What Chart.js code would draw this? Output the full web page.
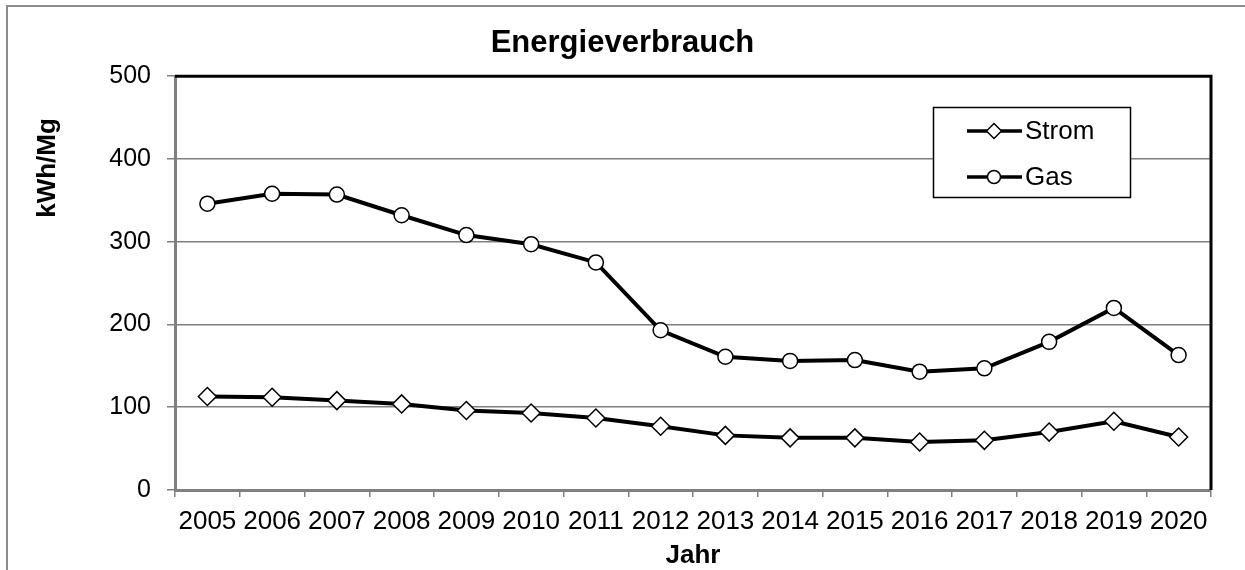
<!DOCTYPE html>
<html>
<head>
<meta charset="utf-8">
<script src="https://cdn.jsdelivr.net/npm/chart.js@4.4.0/dist/chart.umd.min.js"></script>
<style>
  html, body { margin: 0; padding: 0; background: #fff; }
  canvas { display: block; }
</style>
</head>
<body>
<canvas id="myChart" width="1245" height="570"></canvas>
<script>
// Jahre entlang der x-Achse
var years = ["2005","2006","2007","2008","2009","2010","2011","2012",
             "2013","2014","2015","2016","2017","2018","2019","2020"];
// Werte in kWh/Mg
var strom = [113,112,108,104,96,93,87,77,66,63,63,58,60,70,83,64];
var gas = [346,358,357,332,308,297,275,193,161,156,157,143,147,179,220,163];
var seriesNames = ["Strom", "Gas"];

var FONT = "'Liberation Sans', Arial, sans-serif";

// grauer Rahmen um das ganze Diagramm
var framePlugin = {
  id: 'frame',
  beforeDraw: function(chart) {
    var ctx = chart.ctx;
    ctx.save();
    ctx.fillStyle = '#fff';
    ctx.fillRect(0, 0, chart.width, chart.height);
    ctx.strokeStyle = '#8c8c8c';
    ctx.lineWidth = 2;
    ctx.strokeRect(7, 6, chart.width + 10, chart.height + 10);
    ctx.restore();
  }
};

// schwarze Linie oben und rechts um die Zeichenfläche
var plotBorderPlugin = {
  id: 'plotBorder',
  beforeDatasetsDraw: function(chart) {
    var a = chart.chartArea, ctx = chart.ctx;
    ctx.save();
    ctx.strokeStyle = '#000';
    ctx.lineWidth = 3;
    ctx.beginPath();
    ctx.moveTo(a.left, a.top);
    ctx.lineTo(a.right, a.top);
    ctx.lineTo(a.right, a.bottom);
    ctx.stroke();
    ctx.restore();
  }
};

// y-Achsentitel, sitzt wie im Original oberhalb der Mitte
var yTitlePlugin = {
  id: 'yTitle',
  afterDraw: function(chart) {
    var ctx = chart.ctx;
    ctx.save();
    ctx.translate(48, 168);
    ctx.rotate(-Math.PI / 2);
    ctx.font = 'bold 26px ' + FONT;
    ctx.fillStyle = '#000';
    ctx.textAlign = 'center';
    ctx.textBaseline = 'middle';
    ctx.fillText('kWh/Mg', 0, 0);
    ctx.restore();
  }
};

// Legende im Kasten innerhalb der Zeichenfläche
var legendBoxPlugin = {
  id: 'legendBox',
  afterDraw: function(chart) {
    var ctx = chart.ctx;
    ctx.save();
    ctx.fillStyle = '#fff';
    ctx.fillRect(933, 107, 197, 90);
    ctx.strokeStyle = '#000';
    ctx.lineWidth = 1.5;
    ctx.strokeRect(933.5, 107.5, 197, 90);
    chart.data.datasets.forEach(function(ds, i) {
      var y = 131 + i * 46;
      ctx.strokeStyle = '#000';
      ctx.lineWidth = 3.5;
      ctx.beginPath();
      ctx.moveTo(967, y);
      ctx.lineTo(1022, y);
      ctx.stroke();
      ctx.fillStyle = '#fff';
      ctx.strokeStyle = '#000';
      ctx.lineWidth = 1.5;
      Chart.helpers.drawPoint(ctx, {
        pointStyle: ds.pointStyle,
        radius: ds.pointStyle === 'rectRot' ? 7.5 : 6.5,
        rotation: 0,
        borderWidth: 1.5
      }, 994, y);
      ctx.fillStyle = '#000';
      ctx.font = '26px ' + FONT;
      ctx.textAlign = 'left';
      ctx.textBaseline = 'middle';
      ctx.fillText(ds.label, 1025, y + 1);
    });
    ctx.restore();
  }
};

var ctx = document.getElementById("myChart");
var myChart = new Chart(ctx, {
  type: 'line',
  data: {
    labels: years,
    datasets: [
      {
        label: seriesNames[0],
        data: strom,
        borderColor: '#000',
        borderWidth: 4,
        pointStyle: 'rectRot',
        pointRadius: 9,
        pointBackgroundColor: '#fff',
        pointBorderColor: '#000',
        pointBorderWidth: 1.5,
        fill: false,
        tension: 0
      },
      {
        label: seriesNames[1],
        data: gas,
        borderColor: '#000',
        borderWidth: 4,
        pointStyle: 'circle',
        pointRadius: 7.5,
        pointBackgroundColor: '#fff',
        pointBorderColor: '#000',
        pointBorderWidth: 1.5,
        fill: false,
        tension: 0
      }
    ]
  },
  options: {
    responsive: false,
    animation: false,
    devicePixelRatio: 1,
    layout: { padding: { left: 34, right: 34, top: 0, bottom: 0 } },
    plugins: {
      legend: { display: false },
      tooltip: { enabled: false },
      title: {
        display: true,
        text: 'Energieverbrauch',
        color: '#000',
        font: { family: FONT, size: 31, weight: 'bold' },
        padding: { top: 25, bottom: 14 }
      }
    },
    scales: {
      x: {
        offset: true,
        grid: {
          offset: true,
          drawOnChartArea: false,
          drawTicks: true,
          tickLength: 7,
          color: '#808080',
          lineWidth: 1.5
        },
        border: { color: '#808080', width: 3 },
        ticks: {
          color: '#000',
          font: { family: FONT, size: 26 },
          padding: 9,
          maxRotation: 0,
          autoSkip: false
        },
        title: {
          display: true,
          text: 'Jahr',
          color: '#000',
          font: { family: FONT, size: 26, weight: 'bold', lineHeight: 1 },
          padding: { top: 0, bottom: 1 }
        },
        afterFit: function(scale) { scale.height = 80; }
      },
      y: {
        min: 0,
        max: 500,
        ticks: {
          stepSize: 100,
          color: '#000',
          font: { family: FONT, size: 25 },
          padding: 16
        },
        grid: {
          color: '#808080',
          lineWidth: 1.5,
          tickLength: 8
        },
        border: { color: '#808080', width: 3 },
        afterFit: function(scale) { scale.width = 141; }
      }
    }
  },
  plugins: [framePlugin, plotBorderPlugin, yTitlePlugin, legendBoxPlugin]
});
</script>
</body>
</html>
